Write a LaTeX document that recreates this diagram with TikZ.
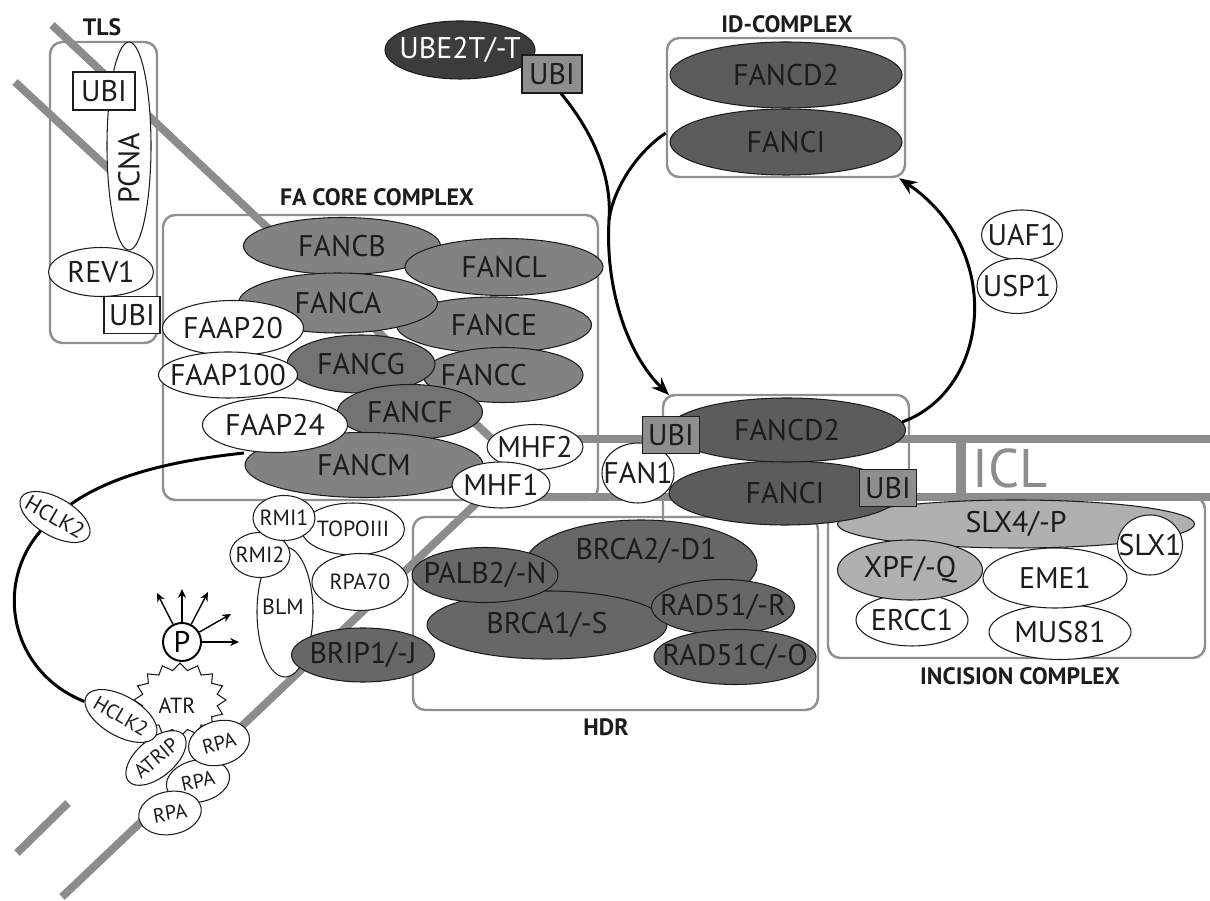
\documentclass[tikz,border=0pt]{standalone}
\usepackage{fontspec}
\setmainfont{PT Sans}
\usetikzlibrary{shapes.geometric,arrows.meta}
\pgfdeclarelayer{back}
\pgfsetlayers{back,main}

\definecolor{ink}{HTML}{1C1C1C}
\definecolor{dnagray}{HTML}{8C8C8C}
\definecolor{boxgray}{HTML}{8F8F8F}
\definecolor{coregray}{HTML}{828282}
\definecolor{coredark}{HTML}{737373}
\definecolor{iddark}{HTML}{5C5C5C}
\definecolor{hdrdark}{HTML}{676767}
\definecolor{slxgray}{HTML}{B0B0B0}
\definecolor{ubigray}{HTML}{8E8E8E}
\definecolor{ubedark}{HTML}{3C3C3C}

% label that never widens its ellipse
\newcommand\inlbl[1]{\makebox[0pt]{#1}}

\begin{document}
\begin{tikzpicture}[x=0.02cm, y=-0.02cm,
  ell/.style 2 args={ellipse, draw=ink, line width=0.6pt, inner sep=0pt,
    minimum width=#1*0.02cm, minimum height=#2*0.02cm, text=ink,
    font=\fontsize{17}{18}\selectfont},
  wt/.style={fill=white},
  core/.style={fill=coregray},
  coredk/.style={fill=coredark},
  idd/.style={fill=iddark},
  hdrd/.style={fill=hdrdark},
  lite/.style={fill=slxgray},
  sm/.style={font=\fontsize{12.5}{13}\selectfont},
  xs/.style={font=\fontsize{11.5}{12}\selectfont},
  ubox/.style 2 args={rectangle, draw=ink, line width=0.6pt, inner sep=0pt,
    minimum width=#1*0.02cm, minimum height=#2*0.02cm, text=ink,
    font=\fontsize{17}{18}\selectfont},
  cbox/.style 2 args={rectangle, draw=boxgray, line width=1.4pt, rounded corners=7pt,
    inner sep=0pt, minimum width=#1*0.02cm, minimum height=#2*0.02cm},
  boxline/.style={draw=boxgray, line width=1.4pt, rounded corners=7pt},
  dna/.style={draw=dnagray, line width=4.5pt},
  title/.style={font=\bfseries\fontsize{13.5}{15}\selectfont, text=ink},
  cycle arrow/.style={draw=black, line width=1.7pt, -{Stealth[length=10pt,width=8pt]}},
  plink/.style={draw=black, line width=0.8pt, -{Stealth[length=5pt,width=4.5pt]}},
]
\useasboundingbox (0,0) rectangle (1210,901);

% ---------- DNA strands and the cross-link ----------
\begin{pgfonlayer}{back}
\draw[dna] (52,25) -- (492,439) -- (1210,439);
\draw[dna] (15,82) -- (110,170);
\draw[dna] (62,897) -- (483,497) -- (1210,497);
\draw[dna] (17,853) -- (68,803);
\draw[dna, line width=6pt] (961,437) -- (961,499);
% complex frames
\node[cbox={107}{301}] (tlsbox) at (103.5,192.5) {};
\node[cbox={435}{285}] (fabox) at (380.5,357.5) {};
\node[cbox={238}{139}] (idT) at (786,107.5) {};
\node[cbox={405}{193}] (hdrbox) at (615.5,613.5) {};
\node[cbox={377}{161}] (incbox) at (1016.5,577.5) {};
\draw[boxline] (663,540) -- (663,395) -- (909,395) -- (909,505);
\end{pgfonlayer}

\node[text=dnagray, font=\fontsize{31}{33}\selectfont] (icl) at (1010,468) {ICL};

% ---------- titles ----------
\node[title] (tlst) at (102,27) {TLS};
\node[title] (fat) at (377,197) {FA CORE COMPLEX};
\node[title] (idt) at (787,24) {ID-COMPLEX};
\node[title] (hdrt) at (606,727) {HDR};
\node[title] (inct) at (1020,676) {INCISION COMPLEX};

% ---------- TLS ----------
\node[ell={208}{44}, wt, rotate=90] (pcna) at (129,146) {};
\node[text=ink, rotate=90, font=\fontsize{17}{18}\selectfont] (pcnat) at (129,168) {PCNA};
\node[ubox={62}{38}, fill=white] (ubitls) at (104,91) {UBI};
\node[ell={105}{49}, wt] (rev1) at (101,272) {\inlbl{REV1}};
\node[ubox={56}{37}, fill=white] (ubirev) at (132,315) {UBI};

% ---------- FA core complex ----------
\node[ell={197}{57}, core] (fancb) at (342,246) {\inlbl{FANCB}};
\node[ell={198}{57}, core] (fancl) at (504,267) {\inlbl{FANCL}};
\node[ell={195}{56}, core] (fance) at (494,325) {\inlbl{FANCE}};
\node[ell={160}{55}, core] (fancc) at (503,375) {\inlbl{\hspace*{-22pt}FANCC}};
\node[ell={199}{60}, core] (fanca) at (338,303) {\inlbl{FANCA}};
\node[ell={148}{58}, coredk] (fancg) at (361,364) {\inlbl{FANCG}};
\node[ell={145}{55}, coredk] (fancf) at (410,412) {\inlbl{FANCF}};
\node[ell={238}{65}, core] (fancm) at (364,465) {\inlbl{FANCM}};
\node[ell={141}{55}, wt] (faap20) at (233,328) {\inlbl{FAAP20}};
\node[ell={139}{46}, wt] (faap100) at (228,375) {\inlbl{FAAP100}};
\node[ell={145}{55}, wt] (faap24) at (275,425) {\inlbl{FAAP24}};
\node[ell={96}{45}, wt] (mhf2) at (535,447) {\inlbl{MHF2}};
\node[ell={98}{46}, wt] (mhf1) at (501,485) {\inlbl{MHF1}};

% ---------- ID complex (free) ----------
\node[ell={232}{66}, idd] (fancdT) at (786,75) {\inlbl{FANCD2}};
\node[ell={232}{66}, idd] (fanciT) at (786,142) {\inlbl{FANCI}};
\node[ell={150}{58}, fill=ubedark, text=white] (ube2t) at (460,50) {\inlbl{UBE2T/-T}};
\node[ubox={60}{38}, fill=ubigray] (ubiT) at (552,74) {UBI};

\node[ell={81}{50}, wt] (uaf1) at (1022,235) {\inlbl{UAF1}};
\node[ell={80}{55}, wt] (usp1) at (1017,286) {\inlbl{USP1}};

% ---------- incision complex ----------
\node[ell={357}{48}, lite] (slx4) at (1016,524) {\inlbl{SLX4/-P}};
\node[ell={112}{52}, wt] (ercc1) at (912,620) {\inlbl{ERCC1}};
\node[ell={142}{55}, wt] (mus81) at (1060,632) {\inlbl{MUS81}};
\node[ell={145}{60}, lite] (xpf) at (910,570) {\inlbl{XPF/-Q}};
\node[ell={144}{60}, wt] (eme1) at (1055,578) {\inlbl{EME1}};
\node[ell={65}{60}, wt] (slx1) at (1150,545) {\inlbl{SLX1}};

% ---------- HDR ----------
\node[ell={232}{90}, hdrd] (brca2) at (641,565) {};
\node[text=ink, font=\fontsize{17}{18}\selectfont] (brca2t) at (646,551) {BRCA2/-D1};
\node[ell={240}{68}, hdrd] (brca1) at (547,625) {\inlbl{BRCA1/-S}};
\node[ell={146}{55}, hdrd] (palb2) at (485,575) {\inlbl{PALB2/-N}};
\node[ell={143}{55}, hdrd] (rad51) at (723,607) {\inlbl{RAD51/-R}};
\node[ell={162}{55}, hdrd] (rad51c) at (735,657) {\inlbl{RAD51C/-O}};

% ---------- BLM complex ----------
\node[ell={130}{56}, wt, sm, rotate=90] (blm) at (285,612) {};
\node[text=ink, sm] (blmt) at (283,607) {BLM};
\node[ell={103}{52}, wt, sm] (topo) at (353,529) {\inlbl{TOPOIII}};
\node[ell={96}{57}, wt, sm] (rpa70) at (360,582) {\inlbl{RPA70}};
\node[ell={60}{45}, wt, sm] (rmi2) at (260,555) {\inlbl{RMI2}};
\node[ell={62}{45}, wt, sm] (rmi1) at (284,518) {\inlbl{RMI1}};
\node[ell={143}{54}, hdrd] (brip1) at (363,655) {\inlbl{BRIP1/-J}};

% ---------- ID complex on the lesion ----------
\node[ell={232}{64}, idd] (fanciL) at (785,493) {\inlbl{FANCI}};
\node[ell={237}{64}, idd] (fancdL) at (787,430) {\inlbl{FANCD2}};
\node[ell={72}{60}, wt] (fan1) at (638,473) {\inlbl{FAN1}};
\node[ubox={57}{37}, fill=ubigray] (ubiD) at (671,435) {UBI};
\node[ubox={57}{37}, fill=ubigray] (ubiI) at (888,488) {UBI};

% ---------- ATR signalling ----------
\node[ell={78}{38}, wt, sm, rotate=-30] (hclkA) at (55,517) {\inlbl{HCLK2}};
\draw[draw=ink, line width=0.6pt, fill=white, shift={(180,700)}]
  (0:46 and 37) \foreach \k in {0,...,15} {
    -- ({(\k+0.5)*22.5}:38 and 30) -- ({(\k+1)*22.5}:46 and 37) } -- cycle;
\node[circle, draw=black, line width=1.1pt, fill=white, inner sep=0pt,
  minimum size=38*0.02cm, font=\fontsize{17}{18}\selectfont] (pcirc) at (182,642) {P};
\coordinate (pa1) at (157,593);
\coordinate (pa2) at (182,589);
\coordinate (pa3) at (208,592);
\coordinate (pa4) at (231,614);
\coordinate (pa5) at (239,642);
\foreach \t in {pa1,pa2,pa3,pa4,pa5} \draw[plink] (pcirc) -- (\t);
\node[text=ink, sm] (atr) at (177,706) {ATR};
\node[ell={64}{42}, wt, xs, rotate=12] (rpa2) at (198,781) {\inlbl{RPA}};
\node[ell={63}{43}, wt, xs, rotate=10] (rpa3) at (170,813) {\inlbl{RPA}};
\node[ell={62}{44}, wt, xs, rotate=15] (rpa1) at (219,743) {\inlbl{RPA}};
\node[ell={72}{38}, wt, xs, rotate=40] (atrip) at (156,758) {\inlbl{ATRIP}};
\node[ell={80}{40}, wt, xs, rotate=-30] (hclkB) at (121,716) {\inlbl{HCLK2}};

% ---------- connectors ----------
\coordinate (hcs) at (244,453);
\begin{pgfonlayer}{back}
\draw[line width=1.7pt] (hcs) .. controls (160,462) and (95,480) .. (hclkA.center)
  .. controls (-10,570) and (5,670) .. (hclkB);
\end{pgfonlayer}

\coordinate (merge) at (609,220);
\coordinate (idLcorner) at (669,395);
\draw[cycle arrow] (ubiT.-65) .. controls (595,135) and (612,178) .. (merge)
  .. controls (605,290) and (628,355) .. (idLcorner);
\draw[line width=1.7pt] (idT.192) .. controls (640,150) and (614,185) .. (merge);
\draw[cycle arrow] (fancdL.4) .. controls (990,390) and (1005,250) .. (idT.-32);

\end{tikzpicture}
\end{document}
